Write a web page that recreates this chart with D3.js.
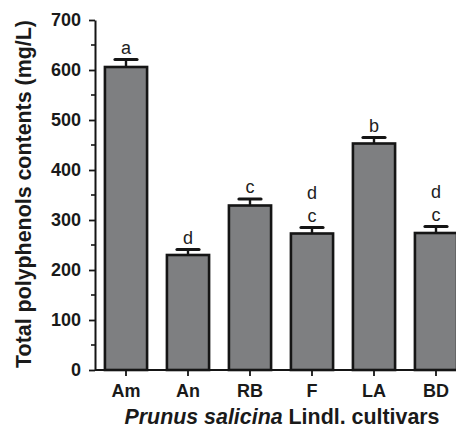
<!DOCTYPE html>
<html>
<head>
<meta charset="utf-8">
<script src="https://cdn.jsdelivr.net/npm/d3@7"></script>
<style>
  body { margin: 0; background: #fff; }
  text { font-family: "Liberation Sans", Arial, sans-serif; }
</style>
</head>
<body>
<svg id="chart"></svg>
<script>
// cultivars and total polyphenols (mg/L)
var cultivars = ["Am", "An", "RB", "F", "LA", "BD"];
var means = [606, 230, 329, 273, 453, 274];
var errors = [15, 11, 13, 12, 12, 13];
// significance letters, stacked from top to bottom
var letters = [["a"], ["d"], ["c"], ["d", "c"], ["b"], ["d", "c"]];
var yTicks = [0, 100, 200, 300, 400, 500, 600, 700];
var yMinor = [50, 150, 250, 350, 450, 550, 650];

var svgWidth = 456, svgHeight = 428;
var plotLeft = 95, plotBottom = 370, plotTop = 20;

var svg = d3.select("#chart")
    .attr("width", svgWidth)
    .attr("height", svgHeight);

var y = d3.scaleLinear()
    .domain([0, 700])
    .range([plotBottom, plotTop]);

var x = d3.scaleBand()
    .domain(cultivars)
    .range([plotLeft, plotLeft + 62 * 6])
    .paddingInner(0.32)
    .paddingOuter(0.16);

// bars
svg.selectAll("rect.bar")
    .data(means)
    .enter()
    .append("rect")
    .attr("class", "bar")
    .attr("x", function(d, i) { return x(cultivars[i]); })
    .attr("y", function(d) { return y(d); })
    .attr("width", x.bandwidth())
    .attr("height", function(d) { return plotBottom - y(d); })
    .attr("fill", "#7e7f81")
    .attr("stroke", "#151515")
    .attr("stroke-width", 2.6);

// error bars
var err = svg.selectAll("g.err")
    .data(means)
    .enter()
    .append("g")
    .attr("class", "err")
    .attr("transform", function(d, i) {
      return "translate(" + (x(cultivars[i]) + x.bandwidth() / 2) + ",0)";
    });

err.append("line")
    .attr("y1", function(d) { return y(d); })
    .attr("y2", function(d, i) { return y(d + errors[i]); })
    .attr("stroke", "#151515")
    .attr("stroke-width", 2.4);

err.append("line")
    .attr("x1", -11)
    .attr("x2", 11)
    .attr("y1", function(d, i) { return y(d + errors[i]); })
    .attr("y2", function(d, i) { return y(d + errors[i]); })
    .attr("stroke", "#151515")
    .attr("stroke-width", 3.2)
    .attr("stroke-linecap", "round");

// letters
err.each(function(d, i) {
  var g = d3.select(this);
  var capY = y(d + errors[i]);
  var list = letters[i];
  list.forEach(function(l, j) {
    g.append("text")
      .attr("x", 0)
      .attr("y", capY - 6 - (list.length - 1 - j) * 23)
      .attr("text-anchor", "middle")
      .attr("font-size", "18px")
      .attr("fill", "#222")
      .text(l);
  });
});

// y axis
var yAxis = svg.append("g")
    .attr("transform", "translate(" + plotLeft + ",0)")
    .call(d3.axisLeft(y).tickValues(yTicks).tickSize(6).tickSizeOuter(0).tickPadding(8));

yAxis.selectAll("line.minor")
    .data(yMinor)
    .enter()
    .append("line")
    .attr("class", "minor")
    .attr("x1", -4)
    .attr("x2", 0)
    .attr("y1", function(d) { return y(d); })
    .attr("y2", function(d) { return y(d); })
    .attr("stroke", "#151515")
    .attr("stroke-width", 1.6);

// x axis
var xAxis = svg.append("g")
    .attr("transform", "translate(0," + plotBottom + ")")
    .call(d3.axisBottom(x).tickSize(6).tickSizeOuter(0).tickPadding(8));

xAxis.select(".domain").attr("d", "M" + plotLeft + ",0H" + svgWidth);

svg.selectAll(".domain")
    .attr("stroke", "#151515")
    .attr("stroke-width", 2);
svg.selectAll(".tick line")
    .attr("stroke", "#151515")
    .attr("stroke-width", 1.8);
svg.selectAll(".tick text")
    .attr("font-family", "'Liberation Sans', Arial, sans-serif")
    .attr("font-size", "18px")
    .attr("font-weight", "bold")
    .attr("fill", "#1a1a1a");

// axis titles
svg.append("text")
    .attr("transform", "translate(31,194) rotate(-90)")
    .attr("text-anchor", "middle")
    .attr("font-size", "21.4px")
    .attr("font-weight", "bold")
    .attr("fill", "#1a1a1a")
    .text("Total polyphenols contents (mg/L)");

var xt = svg.append("text")
    .attr("x", 282)
    .attr("y", 424)
    .attr("text-anchor", "middle")
    .attr("font-size", "21.4px")
    .attr("font-weight", "bold")
    .attr("fill", "#1a1a1a");
xt.append("tspan").attr("font-style", "italic").text("Prunus salicina");
xt.append("tspan").text(" Lindl. cultivars");
</script>
</body>
</html>
